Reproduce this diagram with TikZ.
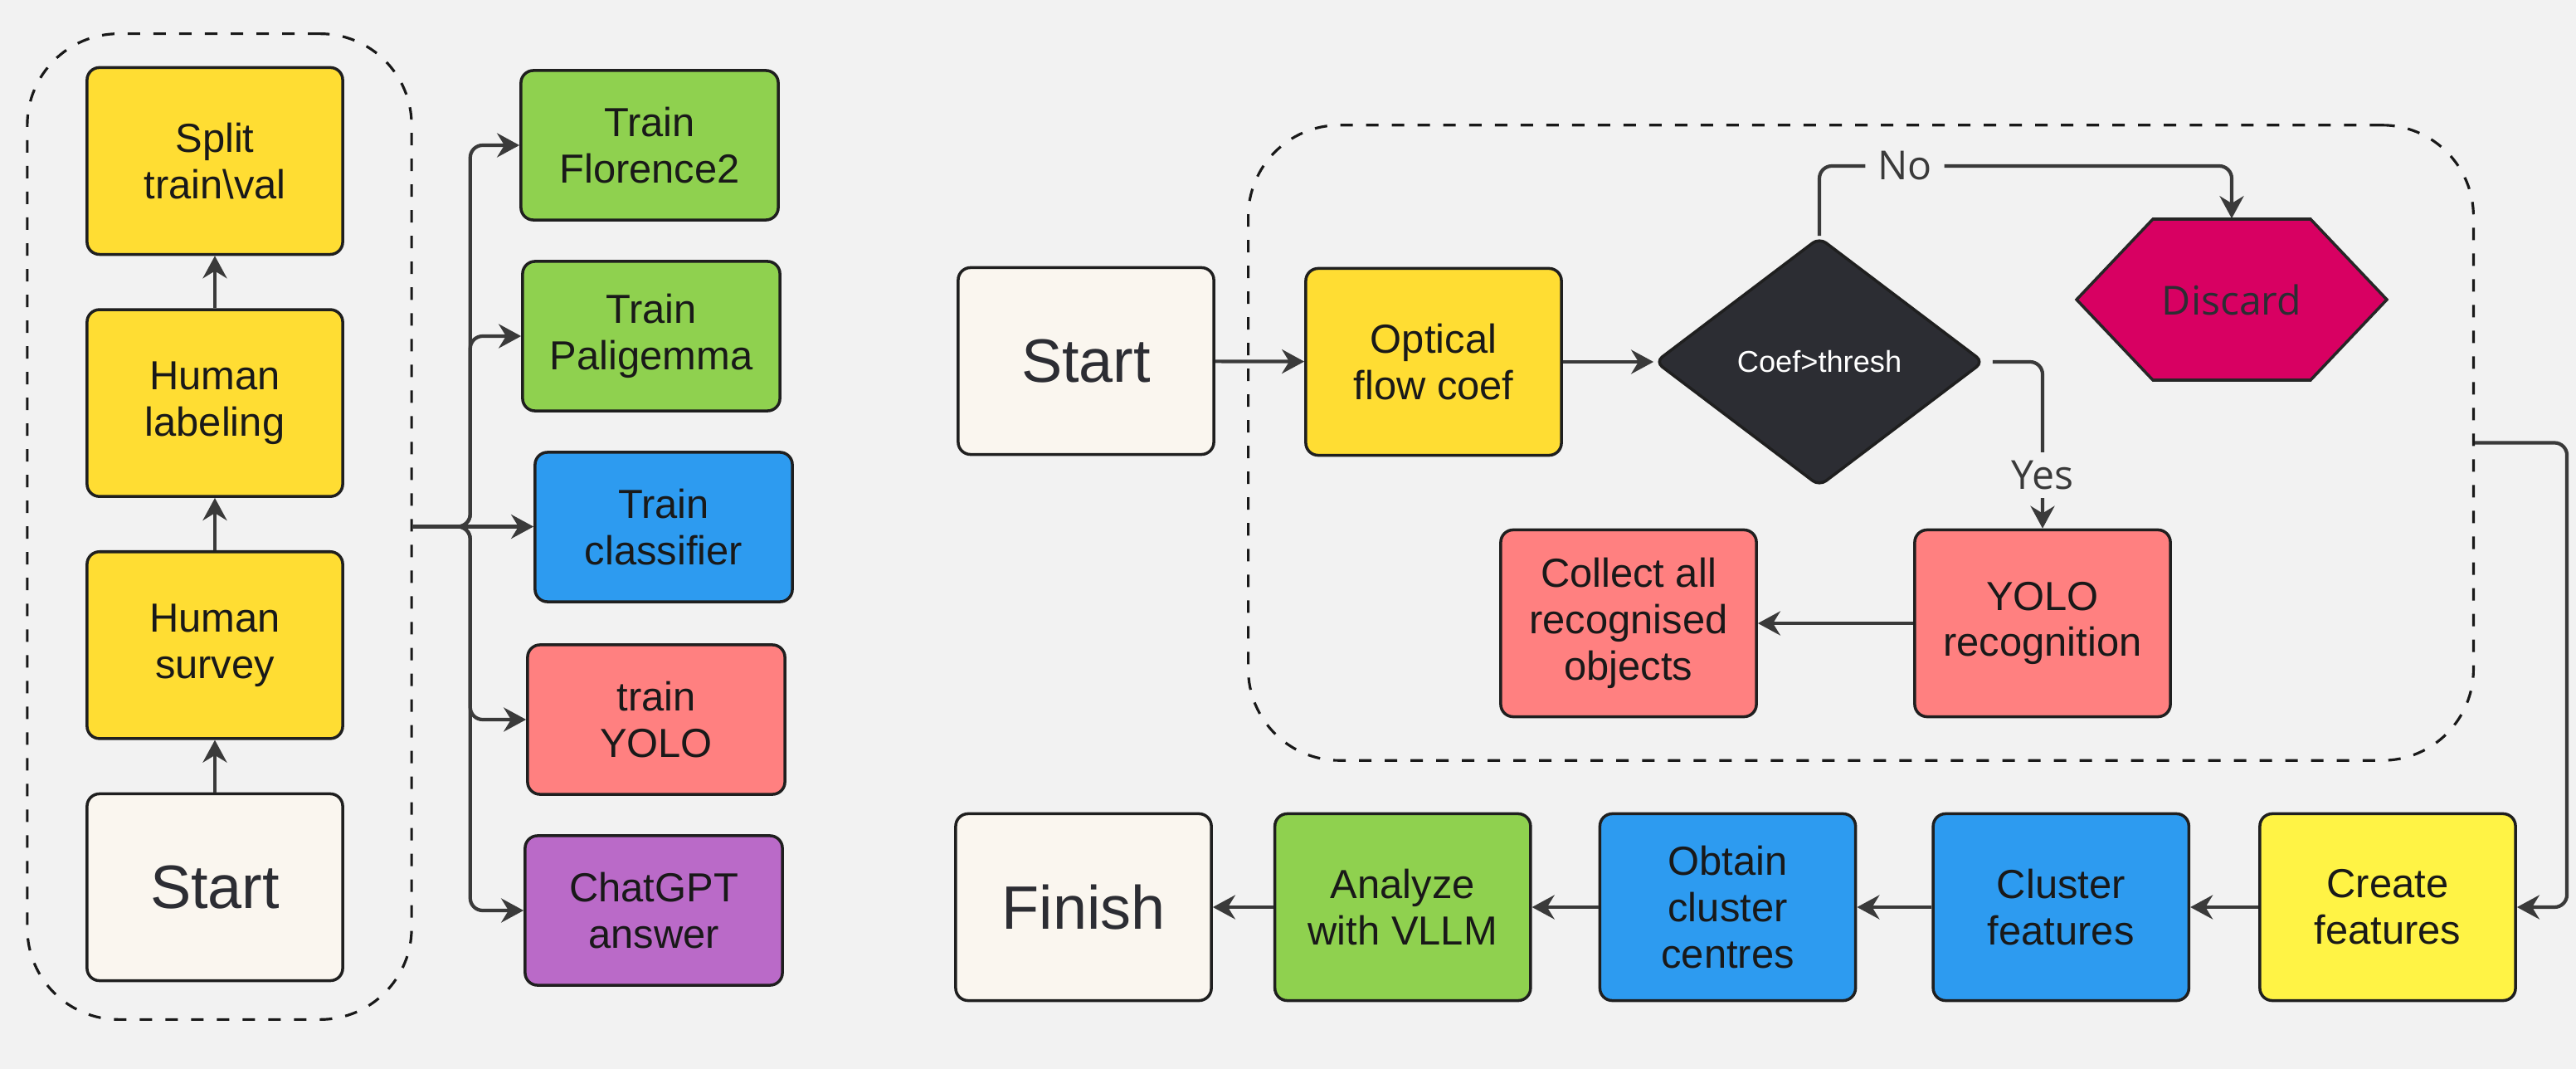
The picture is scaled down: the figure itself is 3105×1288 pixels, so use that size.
\documentclass[tikz,border=0pt]{standalone}
\usepackage{fontspec}
\setmainfont{Liberation Sans}
\newfontfamily\labelfont{Open Sans}
\usepackage{xcolor}
\usetikzlibrary{positioning}
\usetikzlibrary{shapes.geometric}
\usetikzlibrary{arrows.meta}
\usetikzlibrary{calc}
\definecolor{bgc}{HTML}{F2F2F2}
\definecolor{yellowc}{HTML}{FFDD33}
\definecolor{lemonc}{HTML}{FFF345}
\definecolor{greenc}{HTML}{8FD14F}
\definecolor{bluec}{HTML}{2D9BF0}
\definecolor{salmonc}{HTML}{FF8080}
\definecolor{purplec}{HTML}{BA6AC8}
\definecolor{creamc}{HTML}{FAF6EF}
\definecolor{magentac}{HTML}{D80062}
\definecolor{darkc}{HTML}{2C2D33}
\definecolor{linec}{HTML}{3A3A3A}
\tikzstyle{box}=[rectangle, rounded corners=0.15cm, draw=black!88, line width=1pt, minimum width=3.08cm, minimum height=2.25cm, align=center, text=black!90, font=\fontsize{13.9}{15.9}\selectfont]
\tikzstyle{short}=[minimum width=3.1cm, minimum height=1.8cm]
\tikzstyle{terminal}=[fill=creamc, text=darkc, font=\fontsize{21}{24}\selectfont]
\tikzstyle{group}=[rectangle, draw=black!90, line width=0.9pt, dash pattern=on 0.15cm off 0.16cm, rounded corners=1.1cm]
\tikzstyle{link}=[-{Stealth[length=0.27cm, width=0.29cm]}, draw=linec, line width=1.2pt, rounded corners=0.15cm]
\tikzstyle{choice}=[font=\labelfont\fontsize{13.7}{16}\selectfont, text=linec, fill=bgc, inner xsep=0.15cm, inner ysep=0.1cm]

\begin{document}
\begin{tikzpicture}[x=0.01cm, y=-0.01cm]
    \fill[bgc, use as bounding box] (0,0) rectangle (3105,1288);

    % data preparation
    \node[group, minimum width=4.63cm, minimum height=11.87cm] (prep) at (264.5,634.5) {};
    \node[box, terminal]      (start)    at (259,1069)           {Start};
    \node[box, fill=yellowc]  (survey)   [above = 0.63cm of start]    {Human\\survey};
    \node[box, fill=yellowc]  (labeling) [above = 0.63cm of survey]   {Human\\labeling};
    \node[box, fill=yellowc]  (split)    [above = 0.63cm of labeling] {Split\\train\textbackslash val};

    \node[box, short, fill=greenc]  (florence)   at (783,175)  {Train\\Florence2};
    \node[box, short, fill=greenc]  (paligemma)  at (785,405)  {Train\\Paligemma};
    \node[box, short, fill=bluec]   (classifier) at (800,635)  {Train\\classifier};
    \node[box, short, fill=salmonc] (trainyolo)  at (791,867)  {train\\YOLO};
    \node[box, short, fill=purplec] (chatgpt)    at (788,1097) {ChatGPT\\answer};

    \draw[link] (start) -- (survey);
    \draw[link] (survey) -- (labeling);
    \draw[link] (labeling) -- (split);

    \coordinate (fork) at ([xshift=0.69cm]prep.east);
    \draw[link] (prep.east) -- (prep.east -| classifier.west);
    \foreach \target in {florence, paligemma, trainyolo, chatgpt}
        \draw[link] (prep.east) -- (fork) |- (\target.west);

    % detection loop
    \node[group, minimum width=14.76cm, minimum height=7.65cm] (detect) at (2243,533.5) {};
    \node[box, terminal]     (begin) at (1309,435) {Start};
    \node[box, fill=yellowc] (flow)  at (1728,436) {Optical\\flow coef};
    \node[diamond, fill=darkc, draw=black!88, line width=1pt, rounded corners=0.1cm, minimum width=3.96cm, minimum height=3cm, inner sep=0, text=white, font=\fontsize{10.3}{12}\selectfont] (test) at (2193,436) {Coef>thresh};

    \coordinate (dc) at (2690,361);
    \draw[fill=magentac, draw=black!85, line width=1pt] ($(dc)+(-187,0)$) -- ($(dc)+(-95,-97)$) -- ($(dc)+(95,-97)$) -- ($(dc)+(187,0)$) -- ($(dc)+(95,97)$) -- ($(dc)+(-95,97)$) -- cycle;
    \node[minimum width=3.74cm, minimum height=1.94cm, text=darkc, font=\labelfont\fontsize{13.7}{16}\selectfont] (discard) at (dc) {Discard};

    \node[box, fill=salmonc] (recog)   at (2462,751) {YOLO\\recognition};
    \node[box, fill=salmonc] (collect) at (1963,751) {Collect all\\recognised\\objects};

    \draw[link] (begin) -- (flow);
    \draw[link] (flow) -- (test);
    \coordinate (noturn) at (2296,200);
    \draw[link] (test.north) |- (noturn) node[choice] {No} -| (discard.north);
    \draw[link, shorten <=0.09cm] (test.east) -| node[choice, pos=0.84] {Yes} (recog.north);
    \draw[link] (recog) -- (collect);

    % feature analysis
    \node[box, fill=lemonc]  (create)  at (2878,1093)                {Create\\features};
    \node[box, fill=bluec]   (cluster) [left = 0.82cm of create]     {Cluster\\features};
    \node[box, fill=bluec]   (centres) [left = 0.9cm of cluster]     {Obtain\\cluster\\centres};
    \node[box, fill=greenc]  (analyze) [left = 0.8cm of centres]     {Analyze\\with VLLM};
    \node[box, terminal]     (finish)  [left = 0.73cm of analyze]    {Finish};

    \coordinate (rail) at ([xshift=1.11cm]detect.east);
    \draw[link] (detect.east) -- (rail) |- (create.east);
    \draw[link] (create) -- (cluster);
    \draw[link] (cluster) -- (centres);
    \draw[link] (centres) -- (analyze);
    \draw[link] (analyze) -- (finish);
\end{tikzpicture}
\end{document}
